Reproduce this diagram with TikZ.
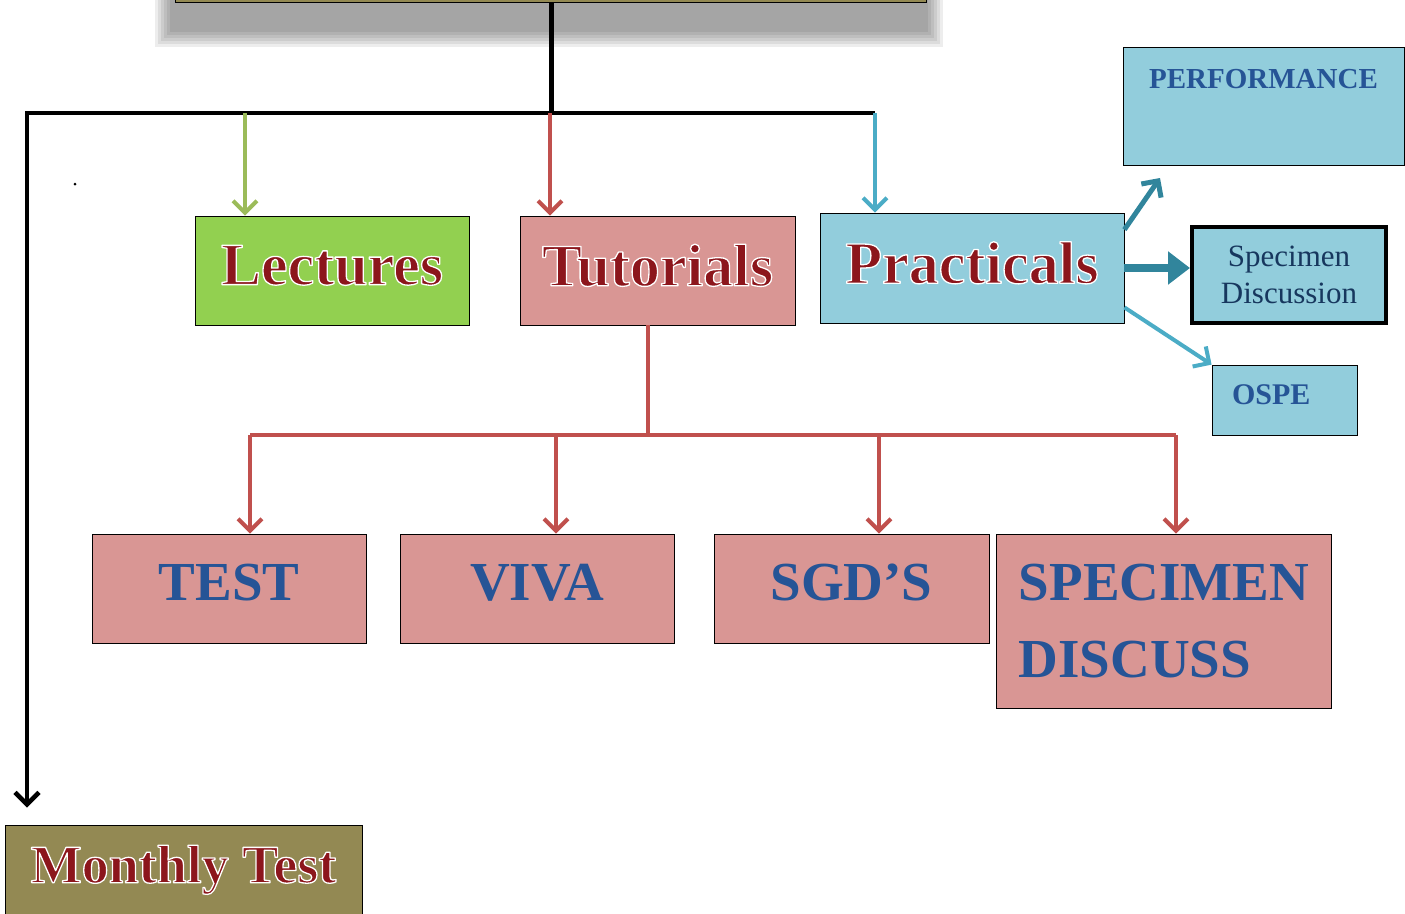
\documentclass[tikz,border=0pt]{standalone}
\usepackage{fontspec}
\setmainfont{Liberation Serif}
\usetikzlibrary{arrows.meta}

\definecolor{lectgreen}{RGB}{146,208,80}
\definecolor{tutpink}{RGB}{217,150,148}
\definecolor{pracblue}{RGB}{146,205,220}
\definecolor{olivebox}{RGB}{147,137,83}
\definecolor{lineGreen}{RGB}{155,187,89}
\definecolor{lineRed}{RGB}{192,80,77}
\definecolor{lineBlue}{RGB}{75,172,198}
\definecolor{lineTeal}{RGB}{49,133,156}
\definecolor{wordRed}{RGB}{140,22,28}
\definecolor{wordBlue}{RGB}{38,84,150}
\definecolor{navyText}{RGB}{23,55,94}

% white rim round the red words
\newcommand{\rimword}[1]{\special{pdf:literal direct 2 Tr 1.3 w 1 j 1 1 1 RG}#1\special{pdf:literal direct 0 Tr}}

\begin{document}
\begin{tikzpicture}[x=1pt, y=-1pt,
	box/.style={draw, line width=0.8pt, inner sep=0pt},
	redword/.style={font=\fontsize{60}{66}\selectfont\bfseries, text=wordRed, text depth=11pt},
	blueword/.style={font=\fontsize{55}{77}\selectfont\bfseries, text=wordBlue, text depth=13pt},
	blackline/.style={line width=5pt},
	blackarrow/.style={line width=4.5pt, -{Straight Barb[length=12pt,width=24pt]}},
	colarrow/.style={line width=4pt, -{Straight Barb[length=12pt,width=24pt]}}]

\useasboundingbox (0,0) rectangle (1405,913);

% Shadow under the top box
\foreach \k in {0,...,5} {
	\fill[black, opacity=0.07] (155+3*\k, -10) rectangle (943-3*\k, 47-3*\k);
}
\node[box, fill=olivebox, minimum width=751pt, minimum height=60pt] (root) at (551,-28) {};

% First level
\node[box, fill=lectgreen, minimum width=274pt, minimum height=109pt, redword] (lect) at (332,270.5) {\rimword{Lectures}};
\node[box, fill=tutpink, minimum width=275pt, minimum height=109pt, redword] (tut) at (657.5,270.5) {\rimword{Tutorials}};
\node[box, fill=pracblue, minimum width=304pt, minimum height=110pt, redword] (prac) at (972,268) {\rimword{Practicals}};

% Practicals side boxes
\node[box, fill=pracblue, minimum width=281pt, minimum height=118pt, font=\fontsize{29}{32}\selectfont\bfseries, text=wordBlue, text depth=55pt] (perf) at (1263.5,106) {PERFORMANCE};
\node[draw, line width=4pt, inner sep=0pt, fill=pracblue, minimum width=194pt, minimum height=96pt, align=center, font=\fontsize{31}{37}\selectfont, text=navyText] (spec) at (1289,275) {Specimen\\Discussion};
\node[box, fill=pracblue, minimum width=145pt, minimum height=70pt, text width=105pt, align=left, font=\fontsize{30}{33}\selectfont\bfseries, text=wordBlue, text depth=10pt] (ospe) at (1284.5,400) {OSPE};

% Tutorials children
\node[box, fill=tutpink, minimum width=274pt, minimum height=109pt, blueword] (test) at (229,588.5) {TEST};
\node[box, fill=tutpink, minimum width=274pt, minimum height=109pt, blueword] (viva) at (537,588.5) {VIVA};
\node[box, fill=tutpink, minimum width=275pt, minimum height=109pt, blueword] (sgd) at (851.5,588.5) {SGD’S};
\node[box, fill=tutpink, minimum width=335pt, minimum height=174pt, blueword, text depth=0pt, align=left] (specd) at (1164,621) {SPECIMEN\\DISCUSS};

% Monthly test
\node[box, fill=olivebox, minimum width=357pt, minimum height=90pt, redword, font=\fontsize{54}{60}\selectfont\bfseries, text depth=12pt] (month) at (183.5,870) {\rimword{Monthly Test}};

\fill (75,184) circle (1.5pt);

% Black branch
\coordinate (top) at (551,113);
\coordinate (cl) at (27,113);
\coordinate (cr) at (875,113);
\coordinate (jl) at (245,113);
\coordinate (jt) at (550,113);
\draw[blackline] (root.south) -- (top);
\draw[blackarrow, shorten >=17pt] (cr) -- (cl) -- (cl |- month.north);

\draw[colarrow, lineGreen] (jl) -- (jl |- lect.north);
\draw[colarrow, lineRed] (jt) -- (jt |- tut.north);
\draw[colarrow, lineBlue] (cr) -- (cr |- prac.north);

% Tutorials bus
\coordinate (bus) at (648,435);
\coordinate (b1) at (250,435);
\coordinate (b2) at (556,435);
\coordinate (b3) at (879,435);
\coordinate (b4) at (1176,435);
\draw[line width=4pt, lineRed] (bus |- tut.south) -- (bus);
\draw[line width=4pt, lineRed] (b1) -- (b4);
\draw[colarrow, lineRed] (b1) -- (b1 |- test.north);
\draw[colarrow, lineRed] (b2) -- (b2 |- viva.north);
\draw[colarrow, lineRed] (b3) -- (b3 |- sgd.north);
\draw[colarrow, lineRed] (b4) -- (b4 |- specd.north);

% Practicals arrows
\coordinate (pa) at (1160,178);
\draw[line width=5pt, lineTeal, -{Straight Barb[length=12pt,width=24pt]}] ([yshift=-17pt]prac.north east) -- (pa);
\draw[line width=8pt, lineTeal, -{Triangle[length=22pt,width=32pt]}] (prac.east) -- (prac.east -| spec.west);
\draw[colarrow, lineBlue] ([yshift=16pt]prac.south east) -- (ospe.north west);

\end{tikzpicture}
\end{document}
